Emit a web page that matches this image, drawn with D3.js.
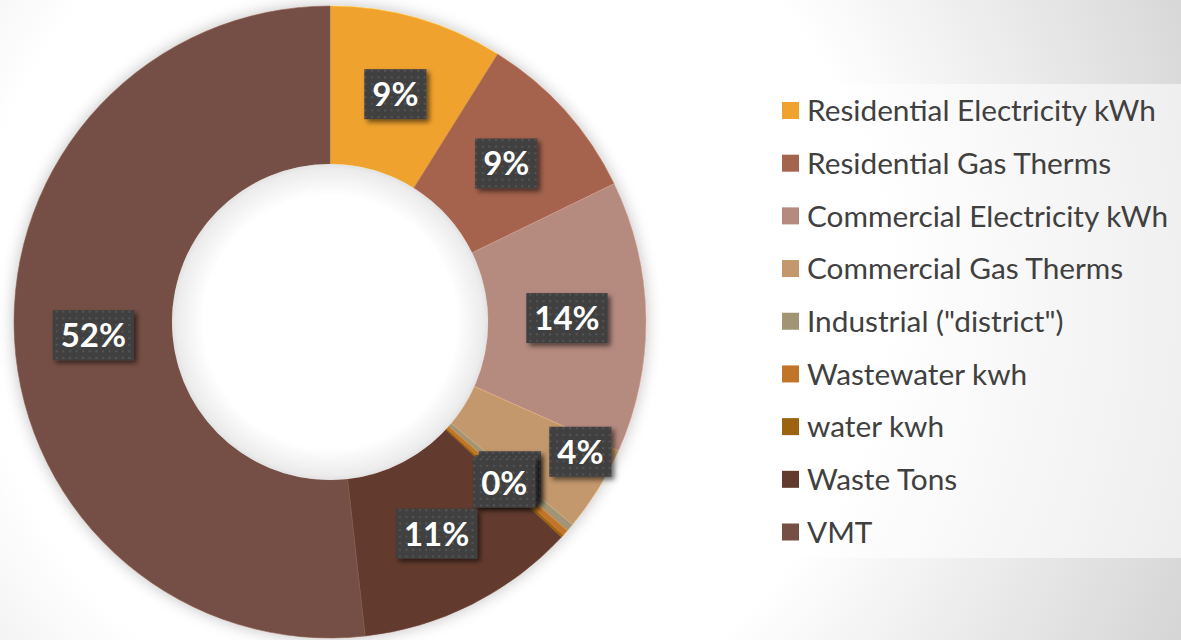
<!DOCTYPE html>
<html>
<head>
<meta charset="utf-8">
<script src="https://cdn.jsdelivr.net/npm/d3@7"></script>
<style>
	html, body { margin: 0; padding: 0; overflow: hidden; }
	svg { display: block; }
</style>
</head>
<body>
<div id="main-view"></div>
<script>
var categories = [
	"Residential Electricity kWh",
	"Residential Gas Therms",
	"Commercial Electricity kWh",
	"Commercial Gas Therms",
	"Industrial (\"district\")",
	"Wastewater kwh",
	"water kwh",
	"Waste Tons",
	"VMT"
];
var shares = [8.9, 8.9, 13.9, 4.4, 0.4, 0.3, 0.15, 11.3, 51.8];
var colors = ["#f0a22e", "#a5644e", "#b58a7f", "#c3986c", "#a19574", "#c17529", "#9c620f", "#623a2e", "#754f44"];

var width = 1181,
	height = 640;
var cx = 330,
	cy = 322,
	outerR = 316,
	innerR = 158;

var total = d3.sum(shares);
var fmt = d3.format(".0%");

var svg = d3.select("#main-view").append("svg")
	.attr("width", width)
	.attr("height", height);

var defs = svg.append("defs");

var bg = defs.append("radialGradient")
	.attr("id", "bg")
	.attr("gradientUnits", "userSpaceOnUse")
	.attr("cx", 430).attr("cy", 290).attr("r", 820);
bg.append("stop").attr("offset", 0.55).attr("stop-color", "#ffffff");
bg.append("stop").attr("offset", 1).attr("stop-color", "#d6d6d6");

var hole = defs.append("radialGradient").attr("id", "hole");
hole.append("stop").attr("offset", 0.8).attr("stop-color", "#ffffff");
hole.append("stop").attr("offset", 0.97).attr("stop-color", "#ececec");
hole.append("stop").attr("offset", 1).attr("stop-color", "#e2e2e2");

var glow = defs.append("filter").attr("id", "glow")
	.attr("x", "-20%").attr("y", "-20%").attr("width", "140%").attr("height", "140%");
glow.append("feGaussianBlur").attr("in", "SourceAlpha").attr("stdDeviation", 8).attr("result", "b");
glow.append("feComponentTransfer").attr("in", "b").attr("result", "s")
	.append("feFuncA").attr("type", "linear").attr("slope", 0.25);
var gm = glow.append("feMerge");
gm.append("feMergeNode").attr("in", "s");
gm.append("feMergeNode").attr("in", "SourceGraphic");

var shadow = defs.append("filter").attr("id", "boxshadow")
	.attr("x", "-30%").attr("y", "-30%").attr("width", "160%").attr("height", "160%");
shadow.append("feDropShadow").attr("dx", 3).attr("dy", 3).attr("stdDeviation", 2.5)
	.attr("flood-color", "#000").attr("flood-opacity", 0.55);

var dots = defs.append("pattern").attr("id", "dots")
	.attr("patternUnits", "userSpaceOnUse")
	.attr("width", 6.6).attr("height", 6.6);
dots.append("rect").attr("width", 6.6).attr("height", 6.6).attr("fill", "#3f3f3f");
dots.append("rect").attr("x", 2).attr("y", 2).attr("width", 2).attr("height", 2).attr("fill", "#575757");

svg.append("rect")
	.attr("width", width).attr("height", height)
	.attr("fill", "url(#bg)");

// donut
var pie = d3.pie().sort(null).value(function(d) { return d; });
var arcs = pie(shares);

var arc = d3.arc().innerRadius(innerR).outerRadius(outerR);
var outerLabelArc = d3.arc().innerRadius(282).outerRadius(282);

var chart = svg.append("g").attr("transform", "translate(" + cx + "," + cy + ")");

chart.append("g").attr("filter", "url(#glow)")
	.selectAll("path")
	.data(arcs)
	.enter().append("path")
	.attr("d", arc)
	.attr("fill", function(d, i) { return colors[i]; })
	.attr("stroke", function(d, i) { return d3.color(colors[i]).brighter(0.5); })
	.attr("stroke-width", 0.6);

chart.append("circle")
	.attr("r", innerR)
	.attr("fill", "url(#hole)");

// data labels (small non-zero slices get pushed out, like excel's best fit)
var labels = chart.append("g")
	.selectAll("g")
	.data(arcs)
	.enter().append("g")
	.attr("transform", function(d) {
		var p = d.value / total;
		if (p >= 0.01 && p < 0.05) {
			var a = (d.startAngle + d.endAngle) / 2 - 0.08;
			var c = outerLabelArc.centroid({ startAngle: a, endAngle: a });
		} else {
			var c = arc.centroid(d);
		}
		return "translate(" + c[0] + "," + c[1] + ")";
	});

labels.each(function(d) {
	var g = d3.select(this);
	var t = g.append("text")
		.attr("text-anchor", "middle")
		.attr("dy", "0.36em")
		.style("font-family", "Lato, 'Open Sans', sans-serif")
		.style("font-weight", 700)
		.style("font-size", "33px")
		.attr("fill", "#ffffff")
		.text(fmt(d.value / total));
	var w = t.node().getComputedTextLength() + 16;
	g.insert("rect", "text")
		.attr("x", -w / 2).attr("y", -25)
		.attr("width", w).attr("height", 50)
		.attr("fill", "url(#dots)")
		.attr("filter", "url(#boxshadow)");
});

// legend
var legend = svg.append("g");
legend.append("rect")
	.attr("x", 768).attr("y", 84)
	.attr("width", width - 768).attr("height", 474)
	.attr("fill", "#ffffff").attr("fill-opacity", 0.55);

var legendY = d3.scalePoint()
	.domain(categories)
	.range([110.5, 532])
	.padding(0);

var items = legend.selectAll("g.item")
	.data(categories)
	.enter().append("g")
	.attr("class", "item")
	.attr("transform", function(d) { return "translate(782," + legendY(d) + ")"; });

items.append("rect")
	.attr("y", -8.5)
	.attr("width", 17).attr("height", 17)
	.attr("fill", function(d, i) { return colors[i]; });

var ltext = items.append("text")
	.attr("x", 25)
	.attr("dy", "0.36em")
	.style("font-family", "Lato, 'Open Sans', sans-serif")
	.style("font-size", "100px")
	.attr("fill", "#404040")
	.text(function(d) { return d; });

// fit font size to the reference's first legend entry width
var w0 = ltext.nodes()[0].getComputedTextLength();
ltext.style("font-size", (100 * 349 / w0) + "px");
</script>
</body>
</html>
